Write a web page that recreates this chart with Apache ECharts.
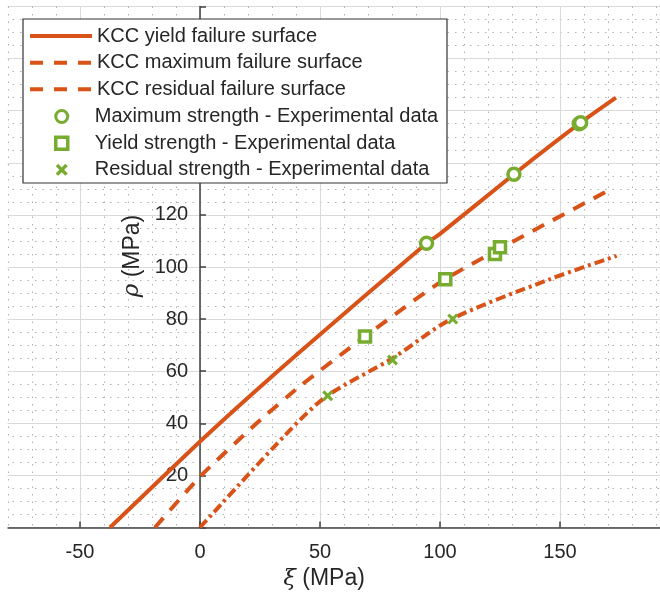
<!DOCTYPE html>
<html><head><meta charset="utf-8">
<script src="https://cdn.jsdelivr.net/npm/echarts@6/dist/echarts.min.js"></script>
<style>html,body{margin:0;padding:0;background:#fff}#c{width:660px;height:596px}</style>
</head><body><div id="c"></div>
<script>
// ---- data ----
const seriesNames = [
  'KCC yield failure surface',
  'KCC maximum failure surface',
  'KCC residual failure surface',
  'Maximum strength - Experimental data',
  'Yield strength - Experimental data',
  'Residual strength - Experimental data'
];
const yieldXi  = [-37.5, 0, 20.8, 41.7, 94.4, 100, 130.8, 158.3, 173.3];
const yieldRho = [0, 33, 50.5, 67.5, 109.1, 112.7, 135.6, 155.2, 165];
const maxXi    = [-18.75, 0, 23.6, 41.7, 68.75, 102.1, 171.5];
const maxRho   = [0, 19.5, 40, 54.3, 73.3, 95.3, 130];
const resXi    = [0, 37.5, 53.1, 80.3, 104.2, 145.8, 173.6];
const resRho   = [0, 37.4, 50.6, 65, 79.7, 95.3, 104.3];
const maxStrXi   = [94.4, 130.8, 158.0, 158.6];
const maxStrRho  = [109.1, 135.6, 155.0, 155.4];
const yieldStrXi  = [68.75, 102.2, 122.9, 125];
const yieldStrRho = [73.3, 95.3, 105, 107.6];
const resStrXi  = [53.2, 80.2, 105.3];
const resStrRho = [50.6, 64.3, 80];
const xAxisMin = -100, xAxisMax = 200, xTickStep = 50, xVisibleMin = -80;
const yAxisMin = 0, yAxisMax = 200, yTickStep = 20;
const yHiddenLabels = [0, 200];

// ---- styles ----
const FONT = '"Liberation Sans", Arial, Helvetica, sans-serif';
const ORANGE = '#D95319', GREEN = '#77AC30', TXT = '#262626';
const LW = 4;
const DASH = [13, 10], DASHDOT = [10, 4, 3, 4];
const pairs = (xs, ys) => xs.map((x, i) => [x, ys[i]]);
const crossPath = 'path://M2,0 L5,3 L8,0 L10,2 L7,5 L10,8 L8,10 L5,7 L2,10 L0,8 L3,5 L0,2 Z';
const NOSYM = {color: 'rgba(0,0,0,0)', borderWidth: 0, opacity: 0};

const chart = echarts.init(document.getElementById('c'), null, {renderer: 'canvas'});
const gridLeft = -40, gridRight = -20;

const option = {
  animation: false,
  backgroundColor: '#fff',
  textStyle: {fontFamily: FONT},
  grid: {left: gridLeft, right: gridRight, top: 6.5, bottom: 68.5, containLabel: false, outerBoundsMode: 'none'},
  xAxis: {
    type: 'value', min: xAxisMin, max: xAxisMax, interval: xTickStep,
    position: 'bottom',
    name: '{i|ξ} (MPa)', nameLocation: 'middle', nameGap: 39,
    nameTextStyle: {fontSize: 23, color: TXT, fontFamily: FONT, padding: [0, 0, 0, 8],
      rich: {i: {fontSize: 23, fontStyle: 'italic', color: TXT, fontFamily: 'DejaVu Serif'}}},
    axisLine: {onZero: false, lineStyle: {color: '#404040', width: 1.5}},
    axisTick: {inside: true, length: 6, lineStyle: {color: '#404040', width: 1.5}},
    axisLabel: {fontSize: 20, color: TXT, margin: 15, fontFamily: FONT},
    splitLine: {show: true, lineStyle: {color: '#d9d9d9', width: 1}},
    minorTick: {show: false, splitNumber: 5},
    minorSplitLine: {show: true, lineStyle: {color: '#b0b0b0', width: 1, type: [1.5, 6]}}
  },
  yAxis: {
    type: 'value', min: yAxisMin, max: yAxisMax, interval: yTickStep,
    position: 'left', offset: 0,
    name: '{i|ρ} (MPa)', nameLocation: 'middle', nameGap: 54, nameRotate: 90,
    nameTextStyle: {fontSize: 23, color: TXT, fontFamily: FONT, padding: [0, 0, 0, 22],
      rich: {i: {fontSize: 23, fontStyle: 'italic', color: TXT, fontFamily: 'DejaVu Serif'}}},
    axisLine: {onZero: false, lineStyle: {color: '#404040', width: 1.5}},
    axisTick: {inside: true, length: 6, lineStyle: {color: '#404040', width: 1.5}},
    axisLabel: {fontSize: 20, color: TXT, margin: 12, fontFamily: FONT,
      formatter: v => yHiddenLabels.includes(v) ? '' : String(v)},
    splitLine: {show: true, lineStyle: {color: '#d9d9d9', width: 1}},
    minorTick: {show: false, splitNumber: 4},
    minorSplitLine: {show: true, lineStyle: {color: '#b0b0b0', width: 1, type: [1.5, 6]}}
  },
  legend: [{
    orient: 'vertical', left: 28, top: 26, padding: 0, itemGap: 6.66,
    itemWidth: 62, itemHeight: 20, selectedMode: false, z: 120,
    data: [
      {name: seriesNames[0], itemStyle: NOSYM, lineStyle: {width: LW}},
      {name: seriesNames[1], itemStyle: NOSYM, lineStyle: {width: LW, type: [13, 11]}},
      {name: seriesNames[2], itemStyle: NOSYM, lineStyle: {width: LW, type: [13, 11]}}
    ],
    textStyle: {fontSize: 20, color: TXT, fontFamily: FONT, lineHeight: 20, padding: [0, 0, 0, 0]}
  }, {
    orient: 'vertical', left: 54, top: 106.5, padding: 0, itemGap: 6.66,
    itemWidth: 12, itemHeight: 12, selectedMode: false, z: 120,
    data: [
      {name: seriesNames[3], itemStyle: {borderWidth: 3, borderColor: GREEN, color: '#fff'}},
      {name: seriesNames[4], itemStyle: {borderWidth: 3.5, borderColor: GREEN, color: '#fff'}},
      {name: seriesNames[5], itemStyle: {borderWidth: 0, color: GREEN}}
    ],
    textStyle: {fontSize: 20, color: TXT, fontFamily: FONT, lineHeight: 20, padding: [0, 0, 0, 22]}
  }],
  series: [
    {name: seriesNames[0], type: 'line', data: pairs(yieldXi, yieldRho), symbol: 'none',
      smooth: 0.2, lineStyle: {color: ORANGE, width: LW}, itemStyle: {color: ORANGE}, z: 3},
    {name: seriesNames[1], type: 'line', data: pairs(maxXi, maxRho), symbol: 'none',
      smooth: 0.2, lineStyle: {color: ORANGE, width: LW, type: DASH}, itemStyle: {color: ORANGE}, z: 3},
    {name: seriesNames[2], type: 'line', data: pairs(resXi, resRho), symbol: 'none',
      smooth: 0.3, lineStyle: {color: ORANGE, width: LW, type: DASHDOT}, itemStyle: {color: ORANGE}, z: 3},
    {name: seriesNames[3], type: 'scatter', data: pairs(maxStrXi, maxStrRho), symbol: 'circle',
      symbolSize: 12, itemStyle: {color: '#fff', borderColor: GREEN, borderWidth: 3.5, opacity: 1}, z: 5},
    {name: seriesNames[4], type: 'scatter', data: pairs(yieldStrXi, yieldStrRho), symbol: 'rect',
      symbolSize: 11, itemStyle: {color: '#fff', borderColor: GREEN, borderWidth: 3.5, opacity: 1}, z: 5},
    {name: seriesNames[5], type: 'scatter', data: pairs(resStrXi, resStrRho), symbol: crossPath,
      symbolSize: 11, itemStyle: {color: GREEN, opacity: 1}, z: 5}
  ]
};
chart.setOption(option);

// Place the y axis on xi = 0, mask left of the visible range, draw legend box
const px0 = chart.convertToPixel({xAxisIndex: 0}, 0);
const pxLeft = chart.convertToPixel({xAxisIndex: 0}, xAxisMin);
const maskRight = chart.convertToPixel({xAxisIndex: 0}, xVisibleMin);
chart.setOption({
  yAxis: {offset: -(px0 - pxLeft)},
  graphic: [
    {type: 'rect', z: 50, shape: {x: 0, y: 0, width: maskRight - 0.5, height: 596},
      style: {fill: '#fff'}},
    {type: 'rect', z: 100, shape: {x: 23, y: 19, width: 424, height: 164},
      style: {fill: '#fff', stroke: '#333', lineWidth: 1.2}}
  ]
});
</script></body></html>
